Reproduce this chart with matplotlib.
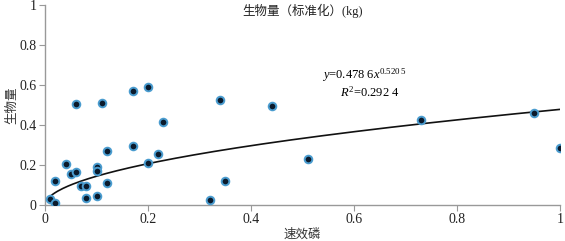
import numpy as np
import matplotlib
matplotlib.use("Agg")
import matplotlib.pyplot as plt

plt.rcParams["mathtext.fontset"] = "custom"
plt.rcParams["mathtext.rm"] = "Liberation Serif"
plt.rcParams["mathtext.it"] = "Liberation Serif:italic"

# soil available phosphorus (standardised) vs biomass (standardised)
phos = [0.06, 0.11, 0.17, 0.20, 0.34, 0.44, 0.23,
        0.01, 0.02, 0.02, 0.04, 0.05, 0.06, 0.07, 0.08, 0.08,
        0.10, 0.10, 0.10, 0.12, 0.12, 0.17, 0.20, 0.22, 0.32, 0.35,
        0.51, 0.73, 0.95, 1.00]
biomass = [0.505, 0.51, 0.57, 0.59, 0.525, 0.495, 0.415,
           0.03, 0.12, 0.01, 0.205, 0.155, 0.165, 0.095, 0.095, 0.035,
           0.19, 0.17, 0.045, 0.27, 0.11, 0.295, 0.21, 0.255, 0.025, 0.12,
           0.23, 0.425, 0.46, 0.285]

fit_a = 0.4786
fit_b = 0.5205
xticks = [0, 0.2, 0.4, 0.6, 0.8, 1]
xtick_labels = ["0", "0.2", "0.4", "0.6", "0.8", "1"]
yticks = [0, 0.2, 0.4, 0.6, 0.8, 1]
ytick_labels = ["0", "0.2", "0.4", "0.6", "0.8", "1"]

serif = ["Liberation Serif", "DejaVu Serif"]
cjk = ["Noto Sans CJK SC", "DejaVu Sans"]
mixed = ["Liberation Serif", "Noto Sans CJK SC"]

fig = plt.figure(figsize=(5.65, 2.41), dpi=100)
ax = fig.add_axes([0.0796, 0.149, 0.912, 0.83])

ax.scatter(phos, biomass, s=30, facecolor="#0b1a2c", edgecolor="#4a9ccf",
           linewidth=1.4, zorder=3)

xs = np.linspace(0.01, 1.0, 200)
ax.plot(xs, fit_a * xs ** fit_b, color="#111111", lw=1.2, zorder=2)

ax.set_xlim(0, 1)
ax.set_ylim(0, 1)
ax.set_xticks(xticks)
ax.set_xticklabels(xtick_labels, fontfamily=serif, fontsize=10)
ax.set_yticks(yticks)
ax.set_yticklabels(ytick_labels, fontfamily=serif, fontsize=10)
for s in ["top", "right"]:
    ax.spines[s].set_visible(False)
for s in ["left", "bottom"]:
    ax.spines[s].set_color("#999999")
    ax.spines[s].set_linewidth(1.0)
ax.tick_params(colors="#999999", labelcolor="#222222", length=4, width=0.8, pad=2)

ax.set_xlabel("速效磷", fontfamily=cjk, fontsize=9, color="#333333", labelpad=1)
ax.set_ylabel("生物量", fontfamily=cjk, fontsize=9, color="#333333", labelpad=1)
ax.text(0.5, 1.005, "生物量（标准化）(kg)", transform=ax.transAxes, ha="center", va="top",
        fontfamily=mixed, fontsize=9, color="#222222")

ax.text(0.62, 0.65, r"$\mathit{y}$=0.478 6$\mathit{x}^{0.520\ 5}$", transform=ax.transAxes,
        ha="center", va="center", fontfamily=serif, fontsize=9)
ax.text(0.63, 0.565, r"$\mathit{R}^{2}$=0.292 4", transform=ax.transAxes,
        ha="center", va="center", fontfamily=serif, fontsize=9)

fig.savefig("out.png", dpi=100)
